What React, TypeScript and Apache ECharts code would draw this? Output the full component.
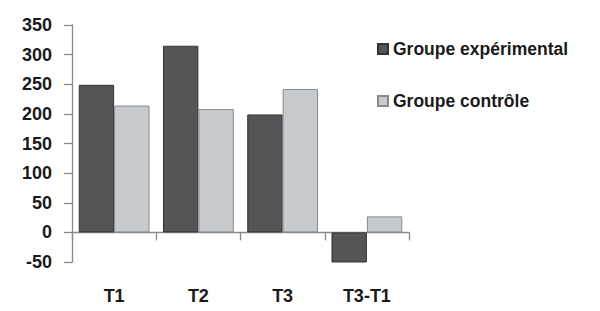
import React, { useEffect, useRef } from "react";
import * as echarts from "echarts";

const categories = ["T1", "T2", "T3", "T3-T1"];
const experimental = [249, 315, 199, -52];
const controle = [214, 208, 242, 27];
const seriesNames = ["Groupe expérimental", "Groupe contrôle"];
const yMin = -50;
const yMax = 350;
const yStep = 50;

const FONT = "'Liberation Sans', Arial, sans-serif";

export default function App() {
  const ref = useRef<HTMLDivElement>(null);
  useEffect(() => {
    if (!ref.current) return;
    const chart = echarts.init(ref.current, undefined, { renderer: "svg" });
    chart.setOption({
      animation: false,
      backgroundColor: "#ffffff",
      grid: { left: 72, right: 191, top: 25, bottom: 49, containLabel: false, outerBoundsMode: "none" },
      legend: {
        orient: "vertical",
        left: 372,
        top: 34,
        itemWidth: 10,
        itemHeight: 10,
        itemGap: 32,
        icon: "rect",
        textStyle: { fontFamily: FONT, fontWeight: "bold", fontSize: 17.5, color: "#1a1a1a", lineHeight: 20 },
        data: seriesNames,
      },
      xAxis: {
        type: "category",
        data: categories,
        axisLine: { onZero: true, lineStyle: { color: "#8a8a8a", width: 1.3 } },
        axisTick: { show: true, length: 8, lineStyle: { color: "#8a8a8a", width: 1.3 } },
        axisLabel: { margin: 25, fontFamily: FONT, fontWeight: "bold", fontSize: 18, color: "#1a1a1a" },
        splitLine: { show: false },
      },
      yAxis: {
        type: "value",
        min: yMin,
        max: yMax,
        interval: yStep,
        axisLine: { show: true, lineStyle: { color: "#8a8a8a", width: 1.3 } },
        axisTick: { show: true, length: 8, lineStyle: { color: "#8a8a8a", width: 1.3 } },
        axisLabel: { margin: 20, fontFamily: FONT, fontWeight: "bold", fontSize: 18, color: "#1a1a1a" },
        splitLine: { show: false },
      },
      series: [
        {
          name: seriesNames[0],
          type: "bar",
          data: experimental,
          barGap: "0%",
          barCategoryGap: "16%",
          itemStyle: { color: "#555557", borderColor: "#333333", borderWidth: 1 },
        },
        {
          name: seriesNames[1],
          type: "bar",
          data: controle,
          barGap: "0%",
          barCategoryGap: "16%",
          itemStyle: { color: "#c8cbce", borderColor: "#8a8a8a", borderWidth: 1 },
        },
      ],
    });
    return () => chart.dispose();
  }, []);
  return (
    <div
      ref={ref}
      style={{ position: "fixed", left: 0, top: 0, width: 600, height: 311, background: "#fff" }}
    />
  );
}
